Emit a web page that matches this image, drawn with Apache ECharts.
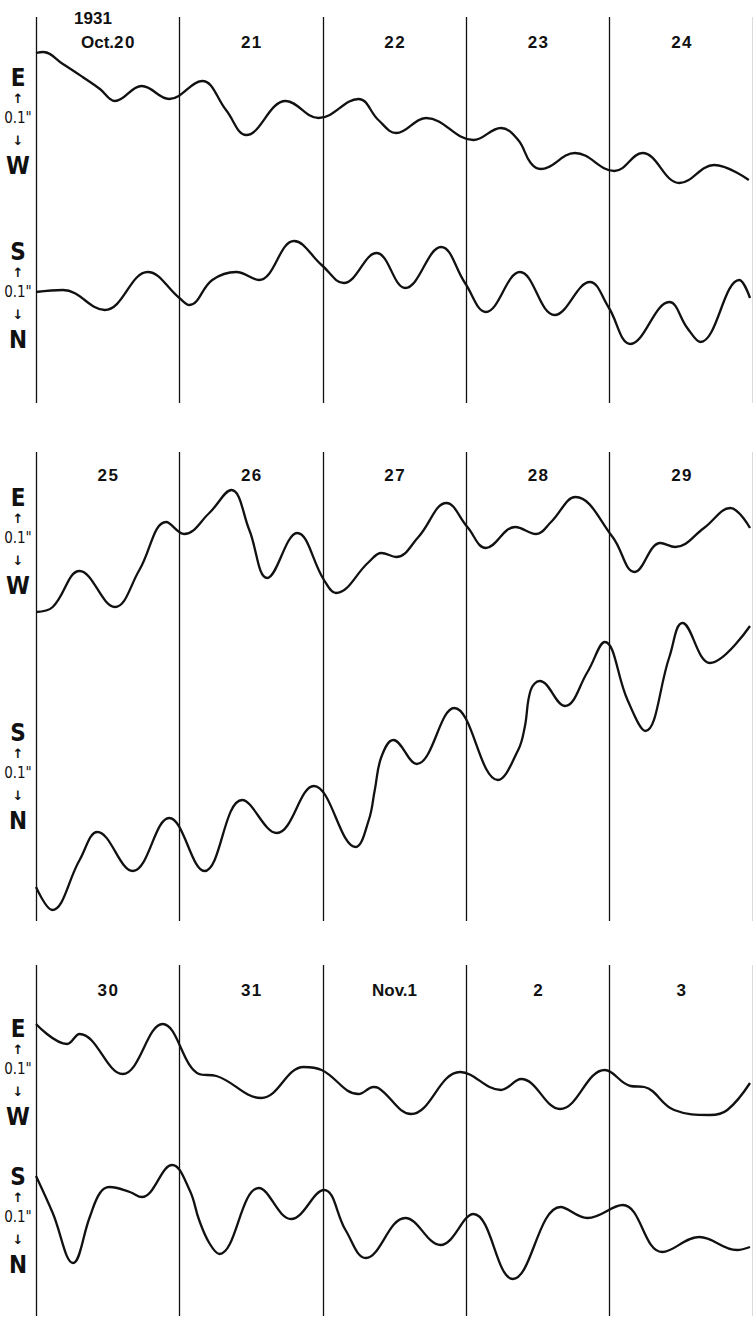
<!DOCTYPE html>
<html><head><meta charset="utf-8">
<script src="https://cdn.jsdelivr.net/npm/echarts@6/dist/echarts.min.js"></script>
<style>html,body{margin:0;padding:0;background:#fff}#c{width:753px;height:1322px}</style>
</head><body><div id="c"></div>
<script>
// ---------------- DATA ----------------
// Time in hours from the start of the first day of each row; values = displacement
// (positive = E for E-W, positive = S for S-N), in plot units.
const yearLabel = '1931';
const dayLabels1 = ['Oct.20', '21', '22', '23', '24'];
const dayLabels2 = ['25', '26', '27', '28', '29'];
const dayLabels3 = ['30', '31', 'Nov.1', '2', '3'];
const ewTitles = ['E', 'W'];
const snTitles = ['S', 'N'];
const scaleLabel = '0.1"';

const ewHours1 = [0, 1.2, 4.5, 7.8, 10.7, 13.2, 17.7, 22.3, 27.8, 31.8, 35.2, 41.8, 47.3, 54, 57.3, 60.3, 65.3, 73.2, 77.8, 80.7, 82.8, 84.5, 90.2, 96.8, 101.5, 107.7, 113.5, 119.3];
const ewValues1 = [65, 66, 54, 41, 29, 17, 32, 19, 37, 8, -17, 17, 0, 19, -2, -15, 0, -22, -10, -22, -45, -51, -35, -53, -35, -65, -47, -62];
const snHours1 = [0, 4.5, 11.5, 18.7, 24, 25.7, 29.5, 33.5, 37.3, 43.2, 47.8, 51.5, 57, 61.8, 67.8, 71.8, 75.3, 81, 86.8, 92.7, 95.8, 99.5, 106, 109, 111.2, 117.7, 119.5];
const snValues1 = [0, 2, -18, 20, -6, -13, 12, 20, 12, 51, 27, 9, 39, 4, 45, 9, -20, 20, -23, 10, -15, -52, -10, -36, -50, 12, -6];

const ewHours2 = [0, 2.8, 7.3, 13.2, 17.3, 21.8, 24.8, 29, 32.7, 35.7, 38.7, 43.7, 48.2, 50.2, 55.7, 57.8, 60.3, 64, 68.7, 72.2, 75.3, 80.2, 83.7, 86.2, 90.3, 96.5, 100.2, 104.5, 107, 111.8, 116.2, 119.5];
const ewValues2 = [-74, -69, -33, -69, -32, 16, 4, 25, 48, 8, -40, 5, -42, -55, -24, -15, -19, 1, 35, 11, -10, 11, 4, 16, 41, 1, -34, -5, -9, 10, 30, 10];
const snHours2 = [0, 2.7, 7.3, 10.3, 16.2, 22.3, 28.2, 34.5, 40.3, 46.5, 53.5, 55.7, 56.7, 57.8, 59.8, 63.7, 70, 77.3, 80.7, 81.8, 82.8, 84.3, 88.5, 92.3, 95.2, 99, 102, 106, 108.2, 112.8, 119.5];
const snValues2 = [-114, -137, -87, -59, -98, -45, -98, -27, -60, -13, -74, -47, -17, 16, 33, 9, 65, -7, 23, 46, 83, 92, 67, 101, 131, 73, 42, 116, 150, 110, 147];

const ewHours3 = [0, 5.2, 7.3, 14.5, 21.2, 27.3, 30.2, 37.7, 44.8, 47.8, 54, 56.5, 57.3, 62.8, 71, 77.8, 81.2, 87.7, 95.2, 99.5, 101.8, 106.8, 112.8, 115.7, 119.5];
const ewValues3 = [46, 26, 36, -4, 46, -4, -6, -28, 3, 0, -24, -17, -18, -44, -2, -20, -9, -39, 0, -16, -17, -40, -45, -40, -13];
const snHours3 = [0, 2.8, 6.2, 9, 10.7, 12.3, 15.7, 17.7, 22.8, 25.7, 27.3, 29, 30.7, 37.3, 42.7, 48.2, 51.8, 55.2, 61.8, 67.7, 73.2, 79.8, 87.8, 92.3, 98.2, 104.8, 111, 117.3, 119.5];
const snValues3 = [34, -3, -53, -7, 17, 23, 18, 13, 45, 20, -10, -33, -44, 22, -9, 20, -20, -48, -8, -35, -4, -69, 3, -8, 5, -42, -27, -40, -37];

// ---------------- LAYOUT ----------------
const W_LEFT = 36, W_WIDTH = 720;
const panels = [
  { top: 17, bottom: 403, days: dayLabels1, ewBase: 118, snBase: 292, ewLab: 118, snLab: 292,
    ew: [ewHours1, ewValues1], sn: [snHours1, snValues1], dayY: 42 },
  { top: 452, bottom: 921, days: dayLabels2, ewBase: 538, snBase: 773, ewLab: 538, snLab: 773,
    ew: [ewHours2, ewValues2], sn: [snHours2, snValues2], dayY: 475 },
  { top: 965, bottom: 1316, days: dayLabels3, ewBase: 1070, snBase: 1210, ewLab: 1069, snLab: 1217,
    ew: [ewHours3, ewValues3], sn: [snHours3, snValues3], dayY: 990 }
];
const DAY_FONT = 17;
const FONT = "'Liberation Sans','DejaVu Sans',sans-serif";
const NARROW = "'Liberation Sans Narrow','DejaVu Sans Condensed','Liberation Sans',sans-serif";
const INK = '#111';
const spaced = s => s.replace(/(\d)(?=\d)/g, '$1\u200A');

const grid = [], xAxis = [], yAxis = [], series = [], graphic = [];
panels.forEach((p, i) => {
  const H = p.bottom - p.top;
  grid.push({ left: W_LEFT, width: W_WIDTH, top: p.top, height: H });
  xAxis.push({ type: 'value', gridIndex: i, min: 0, max: 120, interval: 24,
    axisLine: { show: false }, axisTick: { show: false }, axisLabel: { show: false },
    splitLine: { show: true, lineStyle: { color: INK, width: 1.3 } } });
  xAxis.push({ type: 'category', gridIndex: i, position: 'top', data: p.days, boundaryGap: true,
    axisLine: { show: false }, axisTick: { show: false }, splitLine: { show: false },
    axisLabel: { inside: true, margin: p.dayY - p.top - DAY_FONT / 2, color: INK,
      fontSize: DAY_FONT, fontFamily: FONT, fontWeight: 'bold', interval: 0, formatter: spaced } });
  yAxis.push({ type: 'value', gridIndex: i, min: 0, max: H, show: false, splitLine: { show: false } });
  const ewOff = p.bottom - p.ewBase, snOff = p.bottom - p.snBase;
  [[p.ew, ewOff], [p.sn, snOff]].forEach(([d, off]) => {
    series.push({ type: 'line', xAxisIndex: 2 * i, yAxisIndex: i,
      data: d[0].map((h, k) => [h, off + d[1][k]]),
      smooth: 0.4, showSymbol: false, silent: true,
      lineStyle: { color: INK, width: 2.3 } });
  });
  [[ewTitles, p.ewLab], [snTitles, p.snLab]].forEach(([t, y]) => {
    const items = [
      [t[0], y - 40, 24, NARROW, 'bold'],
      ['\u2191', y - 20, 13, "'DejaVu Sans',sans-serif", 'bold'],
      [scaleLabel, y, 15, NARROW, 'normal'],
      ['\u2193', y + 22, 13, "'DejaVu Sans',sans-serif", 'bold'],
      [t[1], y + 48, 24, NARROW, 'bold']
    ];
    items.forEach(([txt, yy, fs, ff, fw]) => {
      graphic.push({ type: 'text', x: 18, y: yy,
        style: { text: txt, fontSize: fs, fontFamily: ff, fontWeight: fw, fill: INK,
          align: 'center', verticalAlign: 'middle' } });
    });
  });
});
graphic.push({ type: 'text', x: 93, y: 18,
  style: { text: yearLabel, fontSize: DAY_FONT, fontFamily: FONT, fontWeight: 'bold',
    fill: INK, align: 'center', verticalAlign: 'middle' } });

const chart = echarts.init(document.getElementById('c'), null, { renderer: 'svg' });
chart.setOption({ animation: false, backgroundColor: '#fff', grid, xAxis, yAxis, series, graphic });
</script>
</body></html>
